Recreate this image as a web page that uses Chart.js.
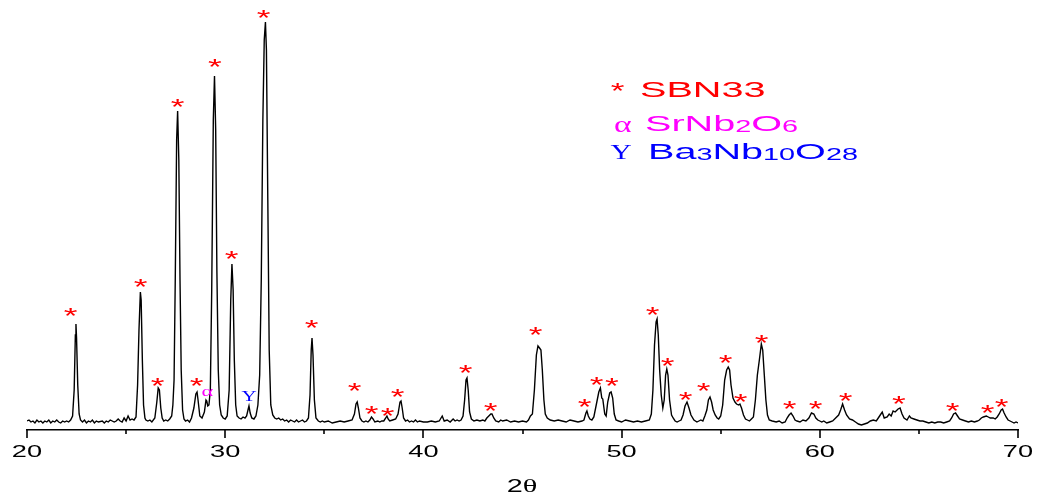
<!DOCTYPE html>
<html lang="en">
<head>
<meta charset="UTF-8">
<title>XRD pattern SBN33</title>
<script src="https://cdn.jsdelivr.net/npm/chart.js"></script>
<style>
    body { margin: 0; background: #ffffff; }
    .chart-box { width: 1037px; height: 494px; position: relative; }
</style>
</head>
<body>
<div class="chart-box"><canvas id="xrdChart"></canvas></div>
<script>
// measured pattern: [2theta, intensity]
const xrdPattern = [
    [20.0,9],[20.1,10],[20.2,8],[20.3,9],[20.4,7],[20.5,10],[20.6,8],[20.7,9],[20.8,7],[20.9,9],
    [21.0,8],[21.1,10],[21.2,7],[21.3,9],[21.4,8],[21.5,10],[21.6,8],[21.7,7],[21.8,9],[21.9,8],
    [22.0,9],[22.1,8],[22.2,10],[22.3,14],[22.38,40],[22.44,95],[22.47,106],[22.5,92],[22.56,45],[22.63,16],
    [22.7,10],[22.8,8],[22.9,10],[23.0,7],[23.1,9],[23.2,8],[23.3,10],[23.4,7],[23.5,9],[23.6,8],
    [23.8,9],[23.9,7],[24.0,9],[24.1,8],[24.2,10],[24.4,8],[24.5,9],[24.6,11],[24.7,9],[24.8,8],
    [24.9,12],[25.0,9],[25.1,14],[25.2,10],[25.3,11],[25.4,10],[25.5,13],
    [25.58,45],[25.65,100],[25.72,138],[25.76,130],[25.82,70],[25.88,25],[25.95,12],[26.0,10],[26.1,9],
    [26.2,10],[26.3,8],[26.45,12],[26.55,28],[26.62,42],[26.68,40],[26.75,22],[26.82,12],[26.9,9],
    [27.0,10],[27.1,9],[27.2,11],[27.3,14],[27.36,25],[27.42,50],[27.48,150],[27.55,290],[27.6,319],
    [27.66,270],[27.72,150],[27.78,60],[27.85,20],[27.92,11],[28.0,9],[28.1,10],[28.2,8],[28.3,12],
    [28.42,22],[28.52,36],[28.58,38],[28.63,30],[28.72,14],[28.83,12],[28.95,18],[29.03,30],[29.07,29],
    [29.12,24],[29.18,25],[29.25,40],[29.32,140],[29.4,310],[29.46,354],[29.52,300],[29.58,160],
    [29.65,60],[29.72,25],[29.8,15],[29.9,12],[30.0,11],[30.1,14],[30.2,40],[30.28,130],[30.34,166],
    [30.4,140],[30.46,70],[30.53,25],[30.6,14],[30.7,12],[30.8,11],[30.9,13],[31.0,12],[31.08,14],
    [31.15,20],[31.2,24],[31.26,17],[31.34,12],[31.45,11],[31.55,14],[31.65,25],[31.74,55],[31.82,150],
    [31.9,310],[31.97,390],[32.03,408],[32.08,380],[32.15,230],[32.22,80],[32.3,25],[32.4,15],
    [32.5,12],[32.6,11],[32.7,12],[32.8,10],[32.9,11],[33.0,9],[33.1,10],[33.2,8],[33.3,10],[33.4,9],
    [33.5,8],[33.6,10],[33.7,8],[33.8,9],[33.9,10],[34.0,8],[34.1,9],[34.2,12],[34.28,35],[34.34,80],
    [34.38,92],[34.43,75],[34.5,30],[34.58,12],[34.7,9],[34.8,8],[34.9,9],[35.0,8],[35.2,9],[35.4,7],
    [35.6,8],[35.8,9],[36.0,8],[36.2,9],[36.4,10],[36.52,16],[36.6,26],[36.66,28],[36.72,22],[36.8,12],
    [36.9,9],[37.0,8],[37.1,9],[37.2,8],[37.3,10],[37.38,13],[37.46,11],[37.55,8],[37.7,9],[37.8,8],
    [37.9,9],[38.0,9],[38.1,12],[38.16,14],[38.22,11],[38.3,9],[38.45,10],[38.6,11],[38.72,16],
    [38.82,28],[38.87,29],[38.93,22],[39.0,12],[39.1,9],[39.2,10],[39.3,8],[39.4,9],[39.5,8],[39.6,10],
    [39.7,8],[39.8,9],[40.0,8],[40.2,8],[40.4,9],[40.6,8],[40.8,9],[40.95,14],[41.05,9],[41.2,10],
    [41.35,8],[41.5,11],[41.6,9],[41.7,10],[41.8,9],[41.9,10],[42.0,14],[42.08,30],[42.15,50],[42.2,52],
    [42.26,40],[42.33,18],[42.42,11],[42.55,9],[42.7,10],[42.85,9],[43.0,10],[43.1,9],[43.2,12],
    [43.3,14],[43.4,16],[43.46,16],[43.55,12],[43.65,9],[43.8,8],[43.9,10],[44.0,9],[44.2,10],[44.4,8],
    [44.6,9],[44.8,8],[45.0,9],[45.2,8],[45.3,10],[45.4,14],[45.5,16],[45.6,40],[45.7,75],[45.78,84],
    [45.86,82],[45.93,80],[46.0,60],[46.08,30],[46.15,16],[46.25,12],[46.4,10],[46.6,9],[46.8,10],
    [47.0,9],[47.2,8],[47.4,10],[47.6,9],[47.8,8],[48.0,9],[48.1,10],[48.2,17],[48.25,19],[48.32,14],
    [48.4,11],[48.5,10],[48.6,13],[48.75,28],[48.85,38],[48.93,42],[49.0,32],[49.05,31],[49.15,16],
    [49.22,14],[49.3,28],[49.4,37],[49.47,38],[49.55,32],[49.63,16],[49.72,10],[49.85,9],[50.0,8],
    [50.2,10],[50.4,9],[50.6,8],[50.8,9],[51.0,8],[51.2,9],[51.4,10],[51.5,16],[51.58,40],[51.66,85],
    [51.74,108],[51.79,111],[51.85,95],[51.92,60],[52.0,35],[52.08,22],[52.15,30],[52.22,55],[52.28,61],
    [52.34,55],[52.42,30],[52.52,15],[52.6,12],[52.7,9],[52.8,8],[52.9,9],[53.0,10],[53.1,15],[53.2,24],
    [53.3,28],[53.4,22],[53.5,15],[53.65,10],[53.8,8],[53.9,9],[54.0,10],[54.1,9],[54.2,14],[54.3,20],
    [54.38,30],[54.46,33],[54.54,28],[54.62,20],[54.72,15],[54.82,12],[54.9,11],[55.0,14],[55.1,25],
    [55.2,50],[55.3,60],[55.38,63],[55.45,60],[55.52,45],[55.62,32],[55.72,28],[55.8,26],[55.9,25],
    [55.97,26],[56.05,22],[56.15,15],[56.25,11],[56.35,10],[56.45,9],[56.55,11],[56.65,13],[56.75,30],
    [56.85,55],[56.95,70],[57.05,86],[57.12,80],[57.2,55],[57.28,30],[57.36,15],[57.45,10],[57.6,9],
    [57.8,8],[57.95,9],[58.1,7],[58.25,8],[58.35,12],[58.45,15],[58.55,17],[58.65,14],[58.75,10],
    [58.85,9],[59.0,8],[59.15,10],[59.3,9],[59.45,12],[59.58,17],[59.7,16],[59.8,12],[59.9,10],
    [60.0,9],[60.1,8],[60.2,9],[60.35,7],[60.5,8],[60.65,9],[60.8,12],[60.95,15],[61.05,20],[61.15,26],
    [61.25,20],[61.35,15],[61.5,11],[61.65,10],[61.8,8],[61.95,6],[62.1,5],[62.25,6],[62.4,7],[62.55,9],
    [62.7,10],[62.85,9],[62.95,12],[63.05,15],[63.15,18],[63.25,12],[63.4,13],[63.5,16],[63.6,14],
    [63.7,19],[63.8,18],[63.95,21],[64.05,22],[64.15,16],[64.25,12],[64.4,10],[64.52,14],[64.6,12],
    [64.75,11],[64.9,10],[65.05,9],[65.2,9],[65.35,8],[65.5,7],[65.65,8],[65.8,7],[65.95,8],[66.1,8],
    [66.25,7],[66.4,8],[66.55,9],[66.65,12],[66.75,16],[66.85,17],[66.95,14],[67.05,11],[67.2,10],
    [67.35,9],[67.5,8],[67.65,9],[67.8,8],[67.95,9],[68.05,10],[68.15,12],[68.25,13],[68.4,14],
    [68.5,13],[68.6,12],[68.75,12],[68.85,11],[68.95,13],[69.05,16],[69.15,20],[69.22,21],[69.3,17],
    [69.4,13],[69.5,10],[69.6,9],[69.7,8],[69.8,7],[69.9,8],[70.0,7]
];

// phase markers [2theta, height of the mark]
const sbnMarks = [
    [22.22,118],[25.75,147],[26.61,48],[27.62,327],[28.58,48],[29.49,367],[30.34,175],[31.96,416],
    [34.38,106],[36.55,43],[37.41,20],[38.21,18],[38.72,37],[42.15,61],[43.41,23],[45.68,99],
    [48.15,27],[48.76,49],[49.52,48],[51.58,119],[52.34,68],[53.25,34],[54.16,43],[55.27,71],
    [56.02,32],[57.08,91],[58.5,25],[59.81,25],[61.32,33],[64.0,30],[66.72,23],[68.49,21],[69.19,27]
];
const srnbMarks = [[29.13,38]];
const banbMarks = [[31.2,34]];

const xTicks = [20, 30, 40, 50, 60, 70];
const xMinorTicks = [25, 35, 45, 55, 65];

const legendSymbols = ['*', 'α', 'Υ'];
const legendNames = [
    [['SBN33', 0]],
    [['SrNb', 0], ['2', 1], ['O', 0], ['6', 1]],
    [['Ba', 0], ['3', 1], ['Nb', 0], ['10', 1], ['O', 0], ['28', 1]]
];
const legendColors = ['#ff0000', '#ff00ff', '#0000ff'];

const SANS = '"Liberation Sans", Arial, sans-serif';
const SERIF = '"Liberation Serif", "Times New Roman", serif';

// draw text stretched sideways, like the original figure
function wideText(ctx, parts, x, y, sx, align) {
    let total = 0;
    parts.forEach(p => { ctx.font = p.font; p.w = ctx.measureText(p.text).width; total += p.w; });
    ctx.save();
    ctx.translate(x, y);
    ctx.scale(sx, 1);
    ctx.textAlign = 'left';
    ctx.textBaseline = 'alphabetic';
    let cx = align === 'center' ? -total / 2 : 0;
    parts.forEach(p => {
        ctx.font = p.font;
        ctx.fillStyle = p.color;
        ctx.fillText(p.text, cx, p.dy || 0);
        cx += p.w;
    });
    ctx.restore();
}

// draw one glyph centred on (x, y)
function centredGlyph(ctx, text, font, color, x, y, sx) {
    ctx.save();
    ctx.font = font;
    ctx.fillStyle = color;
    ctx.textAlign = 'left';
    ctx.textBaseline = 'alphabetic';
    const m = ctx.measureText(text);
    ctx.translate(x, y);
    ctx.scale(sx, 1);
    const ox = -(m.actualBoundingBoxRight - m.actualBoundingBoxLeft) / 2;
    const oy = (m.actualBoundingBoxAscent - m.actualBoundingBoxDescent) / 2;
    ctx.fillText(text, ox, oy);
    ctx.restore();
}

const decorations = {
    id: 'decorations',
    afterDraw(chart) {
        const ctx = chart.ctx;
        const xs = chart.scales.x, ys = chart.scales.y;
        const axisY = chart.chartArea.bottom;

        // tick marks
        ctx.save();
        ctx.strokeStyle = '#000';
        ctx.lineWidth = 1.6;
        xTicks.forEach(v => {
            const px = Math.round(xs.getPixelForValue(v));
            ctx.beginPath(); ctx.moveTo(px, axisY); ctx.lineTo(px, axisY + 8); ctx.stroke();
        });
        xMinorTicks.forEach(v => {
            const px = Math.round(xs.getPixelForValue(v));
            ctx.beginPath(); ctx.moveTo(px, axisY); ctx.lineTo(px, axisY + 4); ctx.stroke();
        });
        ctx.restore();

        // tick labels
        xTicks.forEach(v => {
            wideText(ctx, [{ text: String(v), font: '17px ' + SANS, color: '#000' }],
                xs.getPixelForValue(v), axisY + 27, 1.6, 'center');
        });

        // axis title 2θ
        wideText(ctx, [
            { text: '2', font: '18px ' + SANS, color: '#000' },
            { text: 'θ', font: '19px ' + SERIF, color: '#000' }
        ], 522, 492, 1.6, 'center');

        // phase markers
        sbnMarks.forEach(([t, h]) => {
            centredGlyph(ctx, '*', '22px ' + SANS, '#ff0000',
                xs.getPixelForValue(t), ys.getPixelForValue(h), 1.6);
        });
        srnbMarks.forEach(([t, h]) => {
            centredGlyph(ctx, 'α', '14px ' + SERIF, '#ff00ff',
                xs.getPixelForValue(t), ys.getPixelForValue(h), 1.6);
        });
        banbMarks.forEach(([t, h]) => {
            centredGlyph(ctx, 'Υ', '14px ' + SERIF, '#0000ff',
                xs.getPixelForValue(t), ys.getPixelForValue(h), 1.5);
        });

        // legend
        const rowBase = [97, 131, 159];
        const symX = [618, 623, 621];
        const symY = [87, 126, 152];
        const symFont = ['22px ' + SANS, '24px ' + SERIF, '21px ' + SERIF];
        const nameX = [640, 645, 648];
        legendSymbols.forEach((s, i) => {
            centredGlyph(ctx, s, symFont[i], legendColors[i], symX[i], symY[i], i === 0 ? 1.6 : 1.4);
            const parts = legendNames[i].map(([txt, sub]) => ({
                text: txt,
                font: (sub ? '16px ' : '22px ') + SANS,
                color: legendColors[i],
                dy: sub ? 1 : 0
            }));
            wideText(ctx, parts, nameX[i], rowBase[i], 1.8, 'left');
        });
    }
};

new Chart(document.getElementById('xrdChart'), {
    type: 'line',
    data: {
        datasets: [{
            label: 'XRD',
            data: xrdPattern.map(([t, c]) => ({ x: t, y: c })),
            borderColor: '#000000',
            borderWidth: 1.4,
            pointRadius: 0,
            tension: 0,
            fill: false
        }]
    },
    options: {
        responsive: true,
        maintainAspectRatio: false,
        animation: false,
        layout: { padding: { left: 27, right: 19, top: 10, bottom: 0 } },
        plugins: { legend: { display: false }, tooltip: { enabled: false } },
        scales: {
            x: {
                type: 'linear',
                min: 20,
                max: 70,
                grid: { display: false },
                border: { display: true, color: '#000', width: 1.6 },
                ticks: { display: false },
                afterFit(scale) { scale.height = 64; }
            },
            y: { display: false, min: 0, max: 420 }
        }
    },
    plugins: [decorations]
});
</script>
</body>
</html>
